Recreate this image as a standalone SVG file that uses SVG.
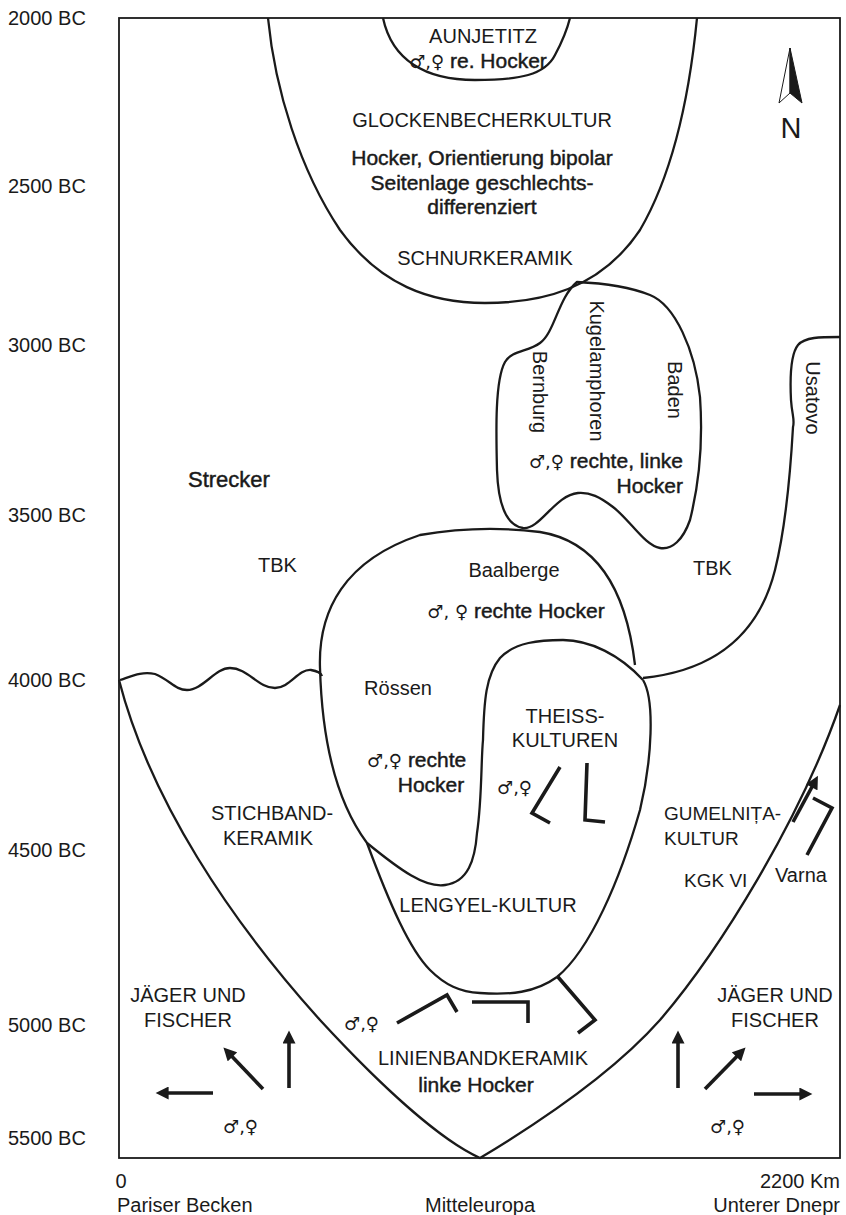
<svg xmlns="http://www.w3.org/2000/svg" width="846" height="1215" viewBox="0 0 846 1215">
<style>
.ln{fill:none;stroke:#1a1a1a;stroke-width:2.3;stroke-linejoin:round}
.fr{fill:none;stroke:#1a1a1a;stroke-width:1.8}
.stk{fill:none;stroke:#1a1a1a;stroke-width:3.6;stroke-linejoin:miter}
.arr{fill:none;stroke:#1a1a1a;stroke-width:3.6;marker-end:url(#ah)}
.t{font-family:"Liberation Sans","DejaVu Sans",Arial,sans-serif;font-size:20px;fill:#1a1a1a}
.h{font-size:21px;stroke:#1a1a1a;stroke-width:0.45}
.g{font-family:"DejaVu Sans",sans-serif;font-size:18px;stroke:none}
.m{text-anchor:middle}
.e{text-anchor:end}
</style>
<defs>
<marker id="ah" viewBox="0 0 10 10" refX="2" refY="5" markerUnits="userSpaceOnUse" markerWidth="14" markerHeight="13" orient="auto">
<path d="M0,0 L10,5 L0,10 z" fill="#1a1a1a"/>
</marker>
</defs>
<rect width="846" height="1215" fill="#fff"/>

<g id="axis">
<rect class="fr" x="119" y="18" width="721" height="1140"/>
<text class="t" x="8" y="25">2000 BC</text>
<text class="t" x="8" y="193">2500 BC</text>
<text class="t" x="8" y="352">3000 BC</text>
<text class="t" x="8" y="522">3500 BC</text>
<text class="t" x="8" y="687">4000 BC</text>
<text class="t" x="8" y="857">4500 BC</text>
<text class="t" x="8" y="1032">5000 BC</text>
<text class="t" x="8" y="1145">5500 BC</text>
<text class="t m" x="121" y="1188">0</text>
<text class="t e" x="840" y="1188">2200 Km</text>
<text class="t" x="117" y="1212">Pariser Becken</text>
<text class="t m" x="480" y="1212">Mitteleuropa</text>
<text class="t e" x="840" y="1212">Unterer Dnepr</text>
</g>

<g id="north">
<polygon points="790,48 779,103 790,93" fill="#fff" stroke="#1a1a1a" stroke-width="1"/>
<polygon points="790,48 802,103 790,93" fill="#1a1a1a" stroke="#1a1a1a" stroke-width="1"/>
<text class="t m" x="791" y="138" style="font-size:29px">N</text>
</g>

<g id="connectors">
<path id="glockenbecher" class="ln" d="M268,18 C275,90 300,170 340,230 C380,285 430,303 485,303 C540,303 600,290 640,230 C675,170 690,90 697,18"/>
<path id="aunjetitz" class="ln" d="M383,18 C392,60 425,80 475,80 C520,80 545,75 555,55 C562,42 567,30 570,18"/>
<path id="kugelamphoren" class="ln" d="M577,282 C600,283 630,287 650,295 C675,305 695,350 700,397 C703,440 700,480 690,520 C683,540 672,550 660,548 C645,546 630,520 613,507 C600,497 590,492 578,493 C555,495 540,530 523,528 C505,525 498,500 497,470 C496,430 495,380 505,362 C512,350 528,352 540,343 C555,332 558,298 577,282 Z"/>
<path id="usatovo" class="ln" d="M840,337 C820,337 805,337 798,345 C790,355 790,380 791,400 C792,415 795,420 793,427 C790,480 785,530 775,570 C760,630 720,670 643,678"/>
<path id="baalberge" class="ln" d="M320,668 C318,610 345,560 420,535 C460,528 500,527 540,532 C590,540 625,580 635,665"/>
<path id="roessen-lengyel" class="ln" d="M320,668 C322,740 335,800 367,843 C390,905 410,950 430,970 C445,985 460,992 480,993 C510,995 535,993 557,977 C590,950 620,880 640,810 C652,760 655,700 643,680"/>
<path id="theiss" class="ln" d="M367,843 C400,870 425,888 445,885 C468,882 475,860 477,833 C482,800 481,760 483,740 C484,700 486,675 500,658 C515,642 540,640 563,640 C590,640 620,655 643,680"/>
<path id="wave" class="ln" d="M120,680 C132,676 142,671 155,674 C170,680 175,690 187,690 C203,690 215,668 230,668 C248,668 258,688 275,688 C290,688 298,669 311,670 C317,671 321,673 322,676"/>
<path id="lbk" class="ln" d="M119,680 C150,800 230,920 320,1020 C380,1085 440,1140 480,1158 C560,1110 620,1065 660,1020 C720,950 800,820 840,705"/>
</g>

<g id="glyphs">
<polyline class="stk" points="560,767 532,813 550,823"/>
<polyline class="stk" points="587,763 585,820 605,822"/>
<polyline class="stk" points="397,1023 447,995 457,1012"/>
<polyline class="stk" points="472,1002 528,1002 528,1023"/>
<polyline class="stk" points="558,977 595,1020 578,1033"/>
<polyline class="stk" points="807,855 832,808 813,798"/>
<line class="arr" x1="793" y1="822" x2="813" y2="785"/>
<line class="arr" x1="213" y1="1093" x2="166" y2="1093"/>
<line class="arr" x1="263" y1="1089" x2="230.6" y2="1055"/>
<line class="arr" x1="289" y1="1088" x2="289" y2="1041"/>
<line class="arr" x1="678" y1="1088" x2="678" y2="1041"/>
<line class="arr" x1="705" y1="1089" x2="738.3" y2="1054.9"/>
<line class="arr" x1="754" y1="1094" x2="802" y2="1094"/>
</g>

<g id="n-aunjetitz">
<text class="t m" x="483" y="43">AUNJETITZ</text>
<text class="t h m" x="478" y="68"><tspan class="g">♂,♀</tspan> re. Hocker</text>
</g>
<g id="n-glocken">
<text class="t m" x="482" y="127">GLOCKENBECHERKULTUR</text>
<text class="t h m" x="482" y="165">Hocker, Orientierung bipolar</text>
<text class="t h m" x="482" y="190">Seitenlage geschlechts-</text>
<text class="t h m" x="482" y="214">differenziert</text>
<text class="t m" x="485" y="265">SCHNURKERAMIK</text>
</g>
<g id="n-kugel">
<text class="t m" transform="translate(597,371) rotate(90)" x="0" y="7">Kugelamphoren</text>
<text class="t m" transform="translate(540,392) rotate(90)" x="0" y="7">Bernburg</text>
<text class="t m" transform="translate(675,390) rotate(90)" x="0" y="7">Baden</text>
<text class="t h e" x="683" y="468"><tspan class="g">♂,♀</tspan> rechte, linke</text>
<text class="t h e" x="683" y="493">Hocker</text>
</g>
<g id="n-usatovo">
<text class="t m" transform="translate(813,398) rotate(90)" x="0" y="7">Usatovo</text>
</g>
<g id="n-strecker">
<text class="t h" x="188" y="487" style="font-size:22px">Strecker</text>
<text class="t" x="258" y="572">TBK</text>
<text class="t" x="693" y="575">TBK</text>
</g>
<g id="n-baalberge">
<text class="t m" x="514" y="577">Baalberge</text>
<text class="t h m" x="516" y="618"><tspan class="g">♂, ♀</tspan> rechte Hocker</text>
</g>
<g id="n-roessen">
<text class="t m" x="398" y="695">Rössen</text>
<text class="t h" x="367" y="767"><tspan class="g">♂,♀</tspan> rechte</text>
<text class="t h m" x="431" y="792">Hocker</text>
</g>
<g id="n-theiss">
<text class="t m" x="565" y="723">THEISS-</text>
<text class="t m" x="565" y="747">KULTUREN</text>
<text class="t" x="497" y="794"><tspan class="g">♂,♀</tspan></text>
</g>
<g id="n-stichband">
<text class="t m" x="272" y="820">STICHBAND-</text>
<text class="t m" x="268" y="845">KERAMIK</text>
</g>
<g id="n-lengyel">
<text class="t m" x="488" y="912">LENGYEL-KULTUR</text>
</g>
<g id="n-gumelnita">
<text class="t" x="664" y="820" style="font-size:19px">GUMELNIȚA-</text>
<text class="t" x="664" y="845" style="font-size:19px">KULTUR</text>
<text class="t" x="684" y="887" style="font-size:19px">KGK VI</text>
<text class="t" x="775" y="882">Varna</text>
</g>
<g id="n-jaeger-left">
<text class="t m" x="188" y="1002">JÄGER UND</text>
<text class="t m" x="188" y="1027">FISCHER</text>
<text class="t" x="223" y="1133"><tspan class="g">♂,♀</tspan></text>
</g>
<g id="n-jaeger-right">
<text class="t m" x="775" y="1002">JÄGER UND</text>
<text class="t m" x="775" y="1027">FISCHER</text>
<text class="t" x="710" y="1133"><tspan class="g">♂,♀</tspan></text>
</g>
<g id="n-lbk">
<text class="t" x="344" y="1030"><tspan class="g">♂,♀</tspan></text>
<text class="t m" x="483" y="1065">LINIENBANDKERAMIK</text>
<text class="t h m" x="476" y="1092">linke Hocker</text>
</g>
</svg>
